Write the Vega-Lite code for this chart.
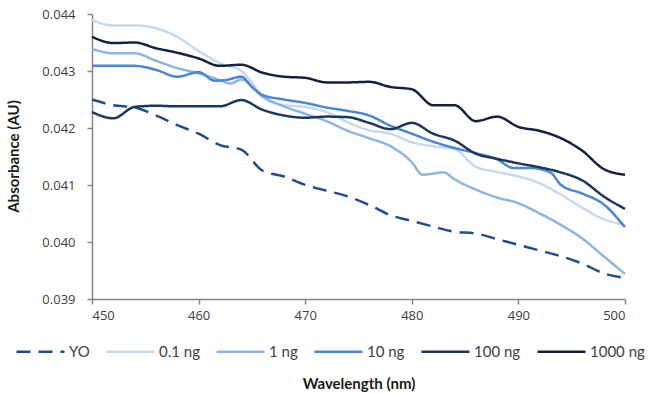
{
  "$schema": "https://vega.github.io/schema/vega-lite/v6.json",
  "width": 533,
  "height": 285,
  "autosize": {"type": "none"},
  "padding": {"left": 92, "top": 14, "right": 26, "bottom": 95},
  "background": "white",
  "config": {
    "view": {"stroke": null},
    "axis": {
      "grid": false,
      "domainColor": "#868686",
      "domainWidth": 1.5,
      "tickColor": "#868686",
      "tickWidth": 1.5,
      "tickSize": 5,
      "labelFont": "Open Sans",
      "labelFontSize": 13,
      "labelColor": "#404040",
      "titleFont": "Lato",
      "titleFontSize": 15,
      "titleFontWeight": "bold",
      "titleColor": "#1a1a1a"
    }
  },
  "data": {
    "values": [
      {"s": "YO", "w": 450, "a": 0.04250}, {"s": "YO", "w": 452, "a": 0.04240}, {"s": "YO", "w": 454, "a": 0.04236}, {"s": "YO", "w": 456, "a": 0.04222}, {"s": "YO", "w": 458, "a": 0.04205}, {"s": "YO", "w": 460, "a": 0.04190}, {"s": "YO", "w": 462, "a": 0.04170}, {"s": "YO", "w": 464, "a": 0.04162}, {"s": "YO", "w": 466, "a": 0.04125}, {"s": "YO", "w": 468, "a": 0.04115}, {"s": "YO", "w": 470, "a": 0.04100}, {"s": "YO", "w": 472, "a": 0.04090}, {"s": "YO", "w": 474, "a": 0.04080}, {"s": "YO", "w": 476, "a": 0.04065}, {"s": "YO", "w": 478, "a": 0.04047}, {"s": "YO", "w": 480, "a": 0.04037}, {"s": "YO", "w": 482, "a": 0.04027}, {"s": "YO", "w": 484, "a": 0.04018}, {"s": "YO", "w": 486, "a": 0.04015}, {"s": "YO", "w": 488, "a": 0.04005}, {"s": "YO", "w": 490, "a": 0.03995}, {"s": "YO", "w": 492, "a": 0.03985}, {"s": "YO", "w": 494, "a": 0.03975}, {"s": "YO", "w": 496, "a": 0.03962}, {"s": "YO", "w": 498, "a": 0.03945}, {"s": "YO", "w": 500, "a": 0.03937},

      {"s": "0.1 ng", "w": 450, "a": 0.04389}, {"s": "0.1 ng", "w": 452, "a": 0.04380}, {"s": "0.1 ng", "w": 454, "a": 0.04380}, {"s": "0.1 ng", "w": 456, "a": 0.04375}, {"s": "0.1 ng", "w": 458, "a": 0.04360}, {"s": "0.1 ng", "w": 460, "a": 0.04335}, {"s": "0.1 ng", "w": 462, "a": 0.04314}, {"s": "0.1 ng", "w": 464, "a": 0.04300}, {"s": "0.1 ng", "w": 465, "a": 0.04280}, {"s": "0.1 ng", "w": 466, "a": 0.04255}, {"s": "0.1 ng", "w": 468, "a": 0.04240}, {"s": "0.1 ng", "w": 470, "a": 0.04237}, {"s": "0.1 ng", "w": 472, "a": 0.04228}, {"s": "0.1 ng", "w": 474, "a": 0.04210}, {"s": "0.1 ng", "w": 476, "a": 0.04196}, {"s": "0.1 ng", "w": 478, "a": 0.04190}, {"s": "0.1 ng", "w": 480, "a": 0.04175}, {"s": "0.1 ng", "w": 482, "a": 0.04168}, {"s": "0.1 ng", "w": 484, "a": 0.04163}, {"s": "0.1 ng", "w": 486, "a": 0.04132}, {"s": "0.1 ng", "w": 488, "a": 0.04123}, {"s": "0.1 ng", "w": 490, "a": 0.04115}, {"s": "0.1 ng", "w": 492, "a": 0.04103}, {"s": "0.1 ng", "w": 494, "a": 0.04083}, {"s": "0.1 ng", "w": 496, "a": 0.04060}, {"s": "0.1 ng", "w": 498, "a": 0.04040}, {"s": "0.1 ng", "w": 500, "a": 0.04030},

      {"s": "1 ng", "w": 450, "a": 0.04339}, {"s": "1 ng", "w": 452, "a": 0.04331}, {"s": "1 ng", "w": 454, "a": 0.04331}, {"s": "1 ng", "w": 456, "a": 0.04318}, {"s": "1 ng", "w": 458, "a": 0.04305}, {"s": "1 ng", "w": 460, "a": 0.04296}, {"s": "1 ng", "w": 462, "a": 0.04284}, {"s": "1 ng", "w": 463, "a": 0.04278}, {"s": "1 ng", "w": 464, "a": 0.04285}, {"s": "1 ng", "w": 466, "a": 0.04255}, {"s": "1 ng", "w": 468, "a": 0.04238}, {"s": "1 ng", "w": 470, "a": 0.04225}, {"s": "1 ng", "w": 472, "a": 0.04212}, {"s": "1 ng", "w": 474, "a": 0.04195}, {"s": "1 ng", "w": 476, "a": 0.04182}, {"s": "1 ng", "w": 478, "a": 0.04168}, {"s": "1 ng", "w": 480, "a": 0.04140}, {"s": "1 ng", "w": 481, "a": 0.04118}, {"s": "1 ng", "w": 483, "a": 0.04122}, {"s": "1 ng", "w": 484, "a": 0.04110}, {"s": "1 ng", "w": 486, "a": 0.04092}, {"s": "1 ng", "w": 488, "a": 0.04078}, {"s": "1 ng", "w": 490, "a": 0.04068}, {"s": "1 ng", "w": 492, "a": 0.04050}, {"s": "1 ng", "w": 494, "a": 0.04030}, {"s": "1 ng", "w": 496, "a": 0.04006}, {"s": "1 ng", "w": 498, "a": 0.03975}, {"s": "1 ng", "w": 500, "a": 0.03944},

      {"s": "10 ng", "w": 450, "a": 0.04309}, {"s": "10 ng", "w": 452, "a": 0.04309}, {"s": "10 ng", "w": 454, "a": 0.04309}, {"s": "10 ng", "w": 456, "a": 0.04302}, {"s": "10 ng", "w": 458, "a": 0.04290}, {"s": "10 ng", "w": 460, "a": 0.04298}, {"s": "10 ng", "w": 461.5, "a": 0.04283}, {"s": "10 ng", "w": 462.5, "a": 0.04284}, {"s": "10 ng", "w": 464, "a": 0.04290}, {"s": "10 ng", "w": 465, "a": 0.04272}, {"s": "10 ng", "w": 466, "a": 0.04258}, {"s": "10 ng", "w": 468, "a": 0.04250}, {"s": "10 ng", "w": 470, "a": 0.04244}, {"s": "10 ng", "w": 472, "a": 0.04236}, {"s": "10 ng", "w": 474, "a": 0.04230}, {"s": "10 ng", "w": 476, "a": 0.04222}, {"s": "10 ng", "w": 478, "a": 0.04204}, {"s": "10 ng", "w": 480, "a": 0.04190}, {"s": "10 ng", "w": 482, "a": 0.04176}, {"s": "10 ng", "w": 484, "a": 0.04165}, {"s": "10 ng", "w": 486, "a": 0.04156}, {"s": "10 ng", "w": 488, "a": 0.04145}, {"s": "10 ng", "w": 489.5, "a": 0.04130}, {"s": "10 ng", "w": 491, "a": 0.04130}, {"s": "10 ng", "w": 493, "a": 0.04122}, {"s": "10 ng", "w": 494, "a": 0.04100}, {"s": "10 ng", "w": 496, "a": 0.04085}, {"s": "10 ng", "w": 498, "a": 0.04066}, {"s": "10 ng", "w": 500, "a": 0.04026},

      {"s": "100 ng", "w": 450, "a": 0.04228}, {"s": "100 ng", "w": 452, "a": 0.04217}, {"s": "100 ng", "w": 454, "a": 0.04237}, {"s": "100 ng", "w": 456, "a": 0.04239}, {"s": "100 ng", "w": 458, "a": 0.04238}, {"s": "100 ng", "w": 460, "a": 0.04238}, {"s": "100 ng", "w": 462, "a": 0.04238}, {"s": "100 ng", "w": 464, "a": 0.04249}, {"s": "100 ng", "w": 466, "a": 0.04232}, {"s": "100 ng", "w": 468, "a": 0.04222}, {"s": "100 ng", "w": 470, "a": 0.04218}, {"s": "100 ng", "w": 472, "a": 0.04220}, {"s": "100 ng", "w": 474, "a": 0.04219}, {"s": "100 ng", "w": 476, "a": 0.04209}, {"s": "100 ng", "w": 478, "a": 0.04198}, {"s": "100 ng", "w": 480, "a": 0.04209}, {"s": "100 ng", "w": 482, "a": 0.04190}, {"s": "100 ng", "w": 484, "a": 0.04178}, {"s": "100 ng", "w": 486, "a": 0.04155}, {"s": "100 ng", "w": 488, "a": 0.04146}, {"s": "100 ng", "w": 490, "a": 0.04138}, {"s": "100 ng", "w": 492, "a": 0.04131}, {"s": "100 ng", "w": 494, "a": 0.04122}, {"s": "100 ng", "w": 496, "a": 0.04108}, {"s": "100 ng", "w": 498, "a": 0.04080}, {"s": "100 ng", "w": 500, "a": 0.04058},

      {"s": "1000 ng", "w": 450, "a": 0.04360}, {"s": "1000 ng", "w": 452, "a": 0.04349}, {"s": "1000 ng", "w": 454, "a": 0.04350}, {"s": "1000 ng", "w": 456, "a": 0.04340}, {"s": "1000 ng", "w": 458, "a": 0.04332}, {"s": "1000 ng", "w": 460, "a": 0.04322}, {"s": "1000 ng", "w": 462, "a": 0.04309}, {"s": "1000 ng", "w": 464, "a": 0.04311}, {"s": "1000 ng", "w": 466, "a": 0.04297}, {"s": "1000 ng", "w": 468, "a": 0.04290}, {"s": "1000 ng", "w": 470, "a": 0.04288}, {"s": "1000 ng", "w": 472, "a": 0.04280}, {"s": "1000 ng", "w": 474, "a": 0.04280}, {"s": "1000 ng", "w": 476, "a": 0.04281}, {"s": "1000 ng", "w": 478, "a": 0.04272}, {"s": "1000 ng", "w": 480, "a": 0.04268}, {"s": "1000 ng", "w": 482, "a": 0.04240}, {"s": "1000 ng", "w": 484, "a": 0.04240}, {"s": "1000 ng", "w": 486, "a": 0.04212}, {"s": "1000 ng", "w": 488, "a": 0.04220}, {"s": "1000 ng", "w": 490, "a": 0.04202}, {"s": "1000 ng", "w": 492, "a": 0.04195}, {"s": "1000 ng", "w": 494, "a": 0.04182}, {"s": "1000 ng", "w": 496, "a": 0.04160}, {"s": "1000 ng", "w": 498, "a": 0.04128}, {"s": "1000 ng", "w": 500, "a": 0.04118}
    ]
  },
  "mark": {"type": "line", "interpolate": "monotone", "strokeWidth": 2.5},
  "encoding": {
    "x": {
      "field": "w", "type": "quantitative",
      "scale": {"domain": [450, 500], "nice": false, "zero": false},
      "axis": {"values": [450, 460, 470, 480, 490, 500], "title": "Wavelength (nm)", "labelPadding": 5, "titleY": 84, "titleBaseline": "middle"}
    },
    "y": {
      "field": "a", "type": "quantitative",
      "scale": {"domain": [0.039, 0.044], "nice": false, "zero": false},
      "axis": {"values": [0.039, 0.04, 0.041, 0.042, 0.043, 0.044], "format": ".3f", "title": "Absorbance (AU)", "labelPadding": 12, "titleX": -79, "titleY": 142, "titleBaseline": "middle", "titleAlign": "center", "titleAngle": -90}
    },
    "color": {
      "field": "s", "type": "nominal",
      "scale": {"domain": ["YO", "0.1 ng", "1 ng", "10 ng", "100 ng", "1000 ng"], "range": ["#1f4e8a", "#c6d9f1", "#8eb4e3", "#4a86d5", "#1d365c", "#14233d"]},
      "legend": {"orient": "none", "legendX": -77, "legendY": 312, "direction": "horizontal", "title": null, "symbolType": "stroke", "symbolSize": 2304, "symbolStrokeWidth": 2.5, "labelFont": "Lato", "labelFontSize": 15, "labelColor": "#404040", "columnPadding": 11, "labelOffset": 3}
    },
    "strokeDash": {
      "field": "s", "type": "nominal",
      "scale": {"domain": ["YO", "0.1 ng", "1 ng", "10 ng", "100 ng", "1000 ng"], "range": [[14, 8], [1, 0], [1, 0], [1, 0], [1, 0], [1, 0]]},
      "legend": {"orient": "none", "legendX": -77, "legendY": 312, "direction": "horizontal", "title": null, "symbolType": "stroke", "symbolSize": 2304, "symbolStrokeWidth": 2.5, "labelFont": "Lato", "labelFontSize": 15, "labelColor": "#404040", "columnPadding": 11, "labelOffset": 3}
    }
  }
}
